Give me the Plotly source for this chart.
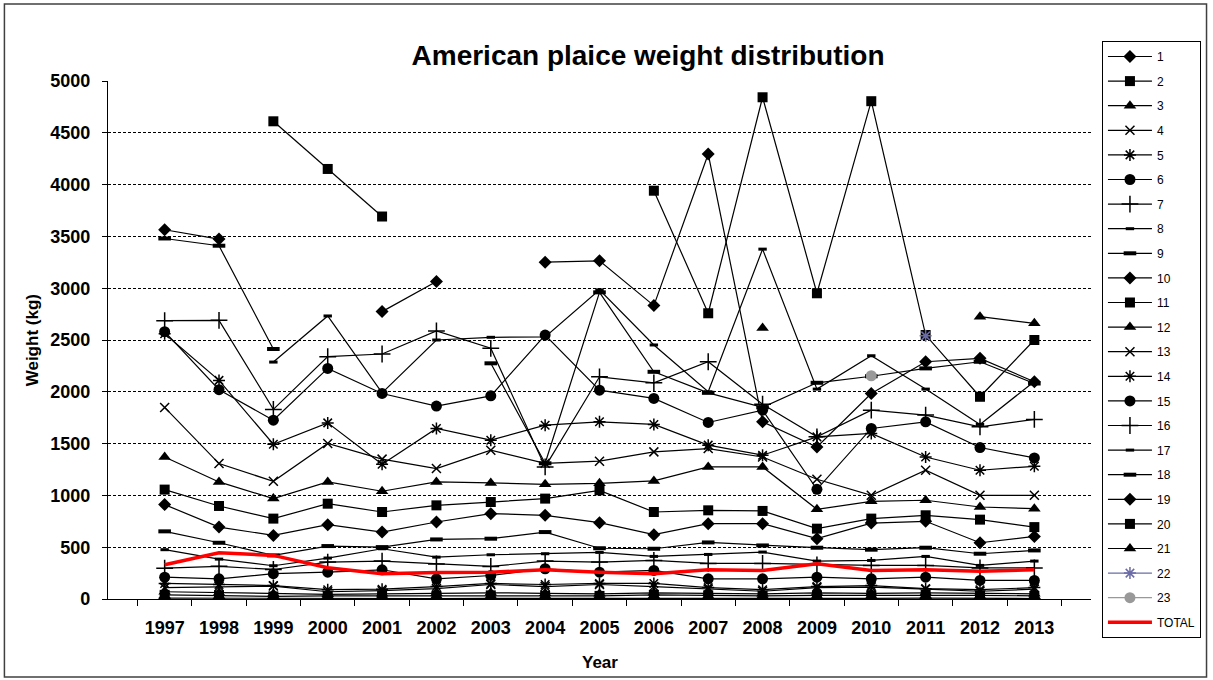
import plotly.graph_objects as go

years = [str(y) for y in range(1997, 2014)]

s1 = [8, 6, 5, 5, 5, 5, 6, 5, 5, 8, 6, 5, 6, 6, 8, 6, 5]
s2 = [40, 35, 25, 30, 30, 30, 35, 30, 30, 40, 35, 30, 35, 35, 40, 35, 30]
s3 = [70, 60, 50, 45, 50, 55, 60, 55, 50, 60, 55, 50, 60, 55, 60, 55, 50]
s4 = [110, 120, 125, 70, 80, 100, 140, 120, 140, 120, 95, 75, 110, 115, 95, 75, 95]
s5 = [150, 140, 130, 90, 95, 120, 150, 140, 150, 150, 110, 90, 120, 130, 100, 90, 110]
s6 = [211, 195, 244, 259, 282, 195, 227, 292, 259, 276, 195, 195, 211, 195, 211, 179, 179]
s7 = [298, 315, 285, 356, 366, 338, 314, 366, 356, 372, 343, 343, 330, 324, 324, 300, 300]
s8 = [476, 385, 321, 395, 485, 404, 427, 437, 450, 411, 430, 453, 366, 372, 411, 324, 366]
s9 = [653, 543, 421, 511, 501, 575, 582, 646, 490, 485, 546, 517, 495, 476, 495, 437, 469]
s10 = [911, 694, 614, 717, 646, 743, 824, 808, 737, 621, 727, 727, 582, 733, 750, 543, 604]
s11 = [1056, 898, 776, 920, 840, 904, 936, 969, 1049, 840, 856, 850, 679, 776, 808, 766, 694]
s12 = [1371, 1130, 969, 1130, 1040, 1130, 1120, 1107, 1117, 1140, 1275, 1275, 866, 943, 953, 888, 872]
s13 = [1849, 1307, 1136, 1501, 1350, 1259, 1436, 1310, 1330, 1420, 1452, 1371, 1156, 1001, 1243, 1001, 1001]
s14 = [2560, 2110, 1494, 1700, 1300, 1646, 1533, 1678, 1710, 1685, 1485, 1388, 1565, 1598, 1371, 1243, 1281]
s15 = [2580, 2020, 1726, 2226, 1984, 1862, 1961, 2548, 2016, 1936, 1704, 1823, 1059, 1646, 1710, 1462, 1362]
s16 = [2687, 2690, 1830, 2339, 2365, 2587, 2420, 1275, 2145, 2087, 2290, 1880, 1565, 1823, 1775, 1662, 1733]
s17 = [None, None, 2287, 2732, 1990, 2500, 2526, 2530, 2984, 2452, 2000, 3377, 2026, 2348, 2026, 1685, 2100]
s18 = [3480, 3410, 2413, None, None, None, 2275, 1310, 2960, 2193, 1990, 1850, 2087, 2150, 2226, 2290, 2080]
s19 = [3564, 3474, None, None, 2774, 3064, None, 3251, 3264, 2832, 4296, 1710, 1468, 1984, 2290, 2323, 2097]
s20 = [None, None, 4611, 4151, 3692, None, None, None, None, 3941, 2758, 4843, 2951, 4805, 2548, 1952, 2500]
s21 = [None, None, None, None, None, None, None, None, None, None, None, 2616, None, None, None, 2725, 2661]
s22 = [None, None, None, None, None, None, None, None, None, None, None, None, None, None, 2540, None, None]
s23 = [None, None, None, None, None, None, None, None, None, None, None, None, None, 2155, None, None, None]
total = [330, 447, 421, 301, 244, 256, 259, 282, 259, 244, 282, 276, 340, 276, 282, 269, 282]

series_names = [str(i) for i in range(1, 24)]
series_values = [s1, s2, s3, s4, s5, s6, s7, s8, s9, s10, s11, s12, s13, s14, s15,
                 s16, s17, s18, s19, s20, s21, s22, s23]

marker_styles = {
    "diamond": dict(symbol="diamond", size=10, line=dict(width=0)),
    "square": dict(symbol="square", size=10, line=dict(width=0)),
    "triangle": dict(symbol="triangle-up", size=11, line=dict(width=0)),
    "x": dict(symbol="x-thin-open", size=9, line=dict(width=1.5)),
    "star": dict(symbol="asterisk-open", size=10, line=dict(width=1.5)),
    "circle": dict(symbol="circle", size=11, line=dict(width=0)),
    "plus": dict(symbol="cross-thin-open", size=12, line=dict(width=1.5)),
    "dash": dict(symbol="line-ew-open", size=6, line=dict(width=3)),
    "rect": dict(symbol="line-ew-open", size=9, line=dict(width=4)),
}
cycle = ["diamond", "square", "triangle", "x", "star", "circle", "plus", "dash", "rect"]

FONT = "Liberation Sans, Arial, sans-serif"

fig = go.Figure()
for i, (name, vals) in enumerate(zip(series_names, series_values)):
    kind = cycle[i % 9]
    color = "black"
    if name == "22":
        kind, color = "star", "#6B6BA8"
    elif name == "23":
        kind, color = "circle", "#999999"
    m = dict(marker_styles[kind])
    m["line"] = dict(m["line"], color=color)
    fig.add_trace(go.Scatter(
        x=years, y=vals, name=name, mode="lines+markers",
        line=dict(color=color, width=1.2),
        marker=dict(color=color, **m),
        legendgroup=name,
    ))

fig.add_trace(go.Scatter(
    x=years, y=total, name="TOTAL", mode="lines",
    line=dict(color="#FF0000", width=3.5), legendgroup="TOTAL",
))

L, R, T, B = 108, 118, 81, 81
W, H = 1213, 680
pw, ph = W - L - R, H - T - B

def px_x(p):
    return (p - L) / pw

def px_y(p):
    return (H - B - p) / ph

fig.update_layout(
    width=W, height=H,
    margin=dict(l=L, r=R, t=T, b=B),
    paper_bgcolor="white", plot_bgcolor="white",
    font=dict(family=FONT, color="black"),
    title=dict(text="American plaice weight distribution",
               font=dict(family=FONT, size=28, weight="bold", color="black"),
               xref="container", x=648 / W, xanchor="center",
               yref="container", y=1 - 55 / H, yanchor="middle"),
    showlegend=True,
    legend=dict(x=px_x(1106), y=px_y(41), xanchor="left", yanchor="top",
                bordercolor="black", borderwidth=1, bgcolor="white",
                font=dict(family=FONT, size=12, color="black"),
                itemwidth=44, tracegroupgap=5.6, traceorder="grouped",
                maxheight=660),
    xaxis=dict(type="category", showgrid=False, zeroline=False,
               showline=True, linecolor="black", linewidth=1.2,
               ticks="outside", ticklen=6, tickcolor="black", tickson="boundaries",
               tickfont=dict(family=FONT, size=18, weight="bold", color="black"),
               ticklabelstandoff=12),
    yaxis=dict(range=[0, 5000], dtick=500, showgrid=True, gridcolor="black",
               griddash="3px,2px", gridwidth=1, zeroline=False,
               showline=True, linecolor="black", linewidth=1.2,
               ticks="outside", ticklen=5, tickcolor="black",
               tickfont=dict(family=FONT, size=18, weight="bold", color="black"),
               ticklabelstandoff=8),
    annotations=[
        dict(text="Weight (kg)", xref="paper", yref="paper", x=px_x(32), y=0.5,
             textangle=-90, showarrow=False, xanchor="center", yanchor="middle",
             font=dict(family=FONT, size=17, weight="bold", color="black")),
        dict(text="Year", xref="paper", yref="paper", x=px_x(602), y=px_y(662),
             showarrow=False, xanchor="center", yanchor="middle",
             font=dict(family=FONT, size=17, weight="bold", color="black")),
    ],
    shapes=[
        dict(type="rect", xref="paper", yref="paper",
             x0=px_x(4), x1=px_x(1211), y0=px_y(677), y1=px_y(4),
             line=dict(color="#404040", width=1.5), layer="below"),
    ],
)

fig.write_html("out.html", config={"displayModeBar": False},
               post_script="document.body.style.margin='0';document.body.style.overflow='hidden';")
